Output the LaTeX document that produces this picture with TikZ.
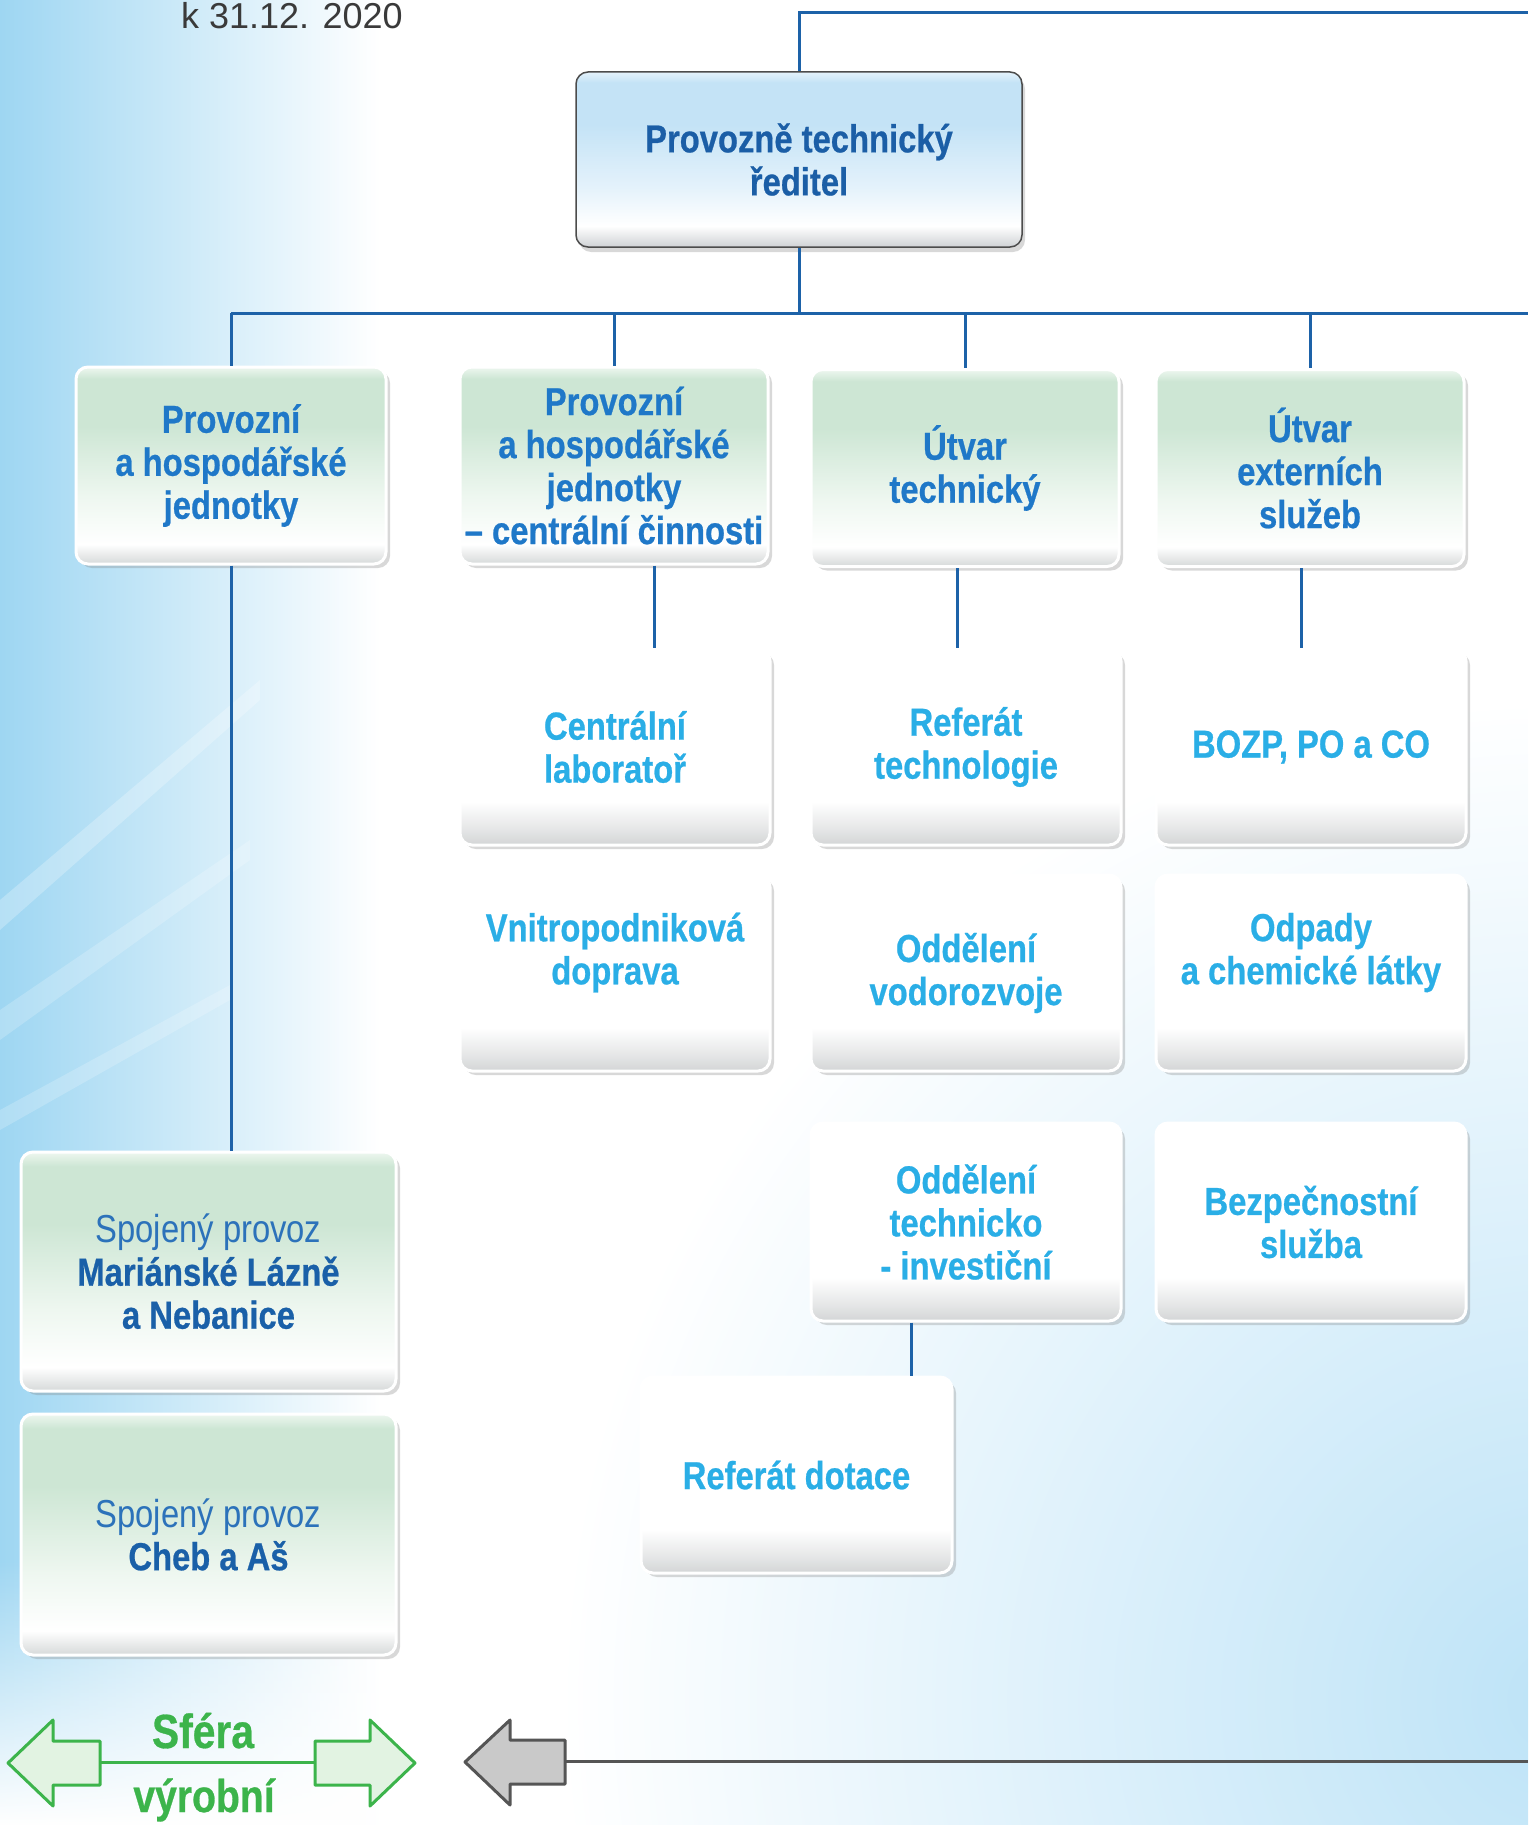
\documentclass[tikz,border=0pt]{standalone}
\usepackage{fontspec}
\setmainfont{Liberation Sans}
\newfontfamily\cond{Liberation Sans}[FakeStretch=0.84]
\newfontfamily\condb{Liberation Sans Bold}[FakeStretch=0.84, FakeBold=0.6]
\newfontfamily\sferafont{Liberation Sans Bold}[FakeStretch=0.85, FakeBold=0.6]
\usetikzlibrary{shadows,fadings,calc}

\definecolor{linecol}{HTML}{1D62A8}
\definecolor{dirtext}{HTML}{1B5EA6}
\definecolor{ltwotext}{HTML}{1F78C8}
\definecolor{lthreetext}{HTML}{2AAEE6}
\definecolor{spbold}{HTML}{1A60A8}
\definecolor{splight}{HTML}{2C72BA}
\definecolor{dirtop}{HTML}{C4E3F6}
\definecolor{dirmid}{HTML}{E4F2FB}
\definecolor{dirbot}{HTML}{CFD2D5}
\definecolor{grtop}{HTML}{CDE6D4}
\definecolor{grmid}{HTML}{EEF7F0}
\definecolor{grbot}{HTML}{D6D9D9}
\definecolor{whbot}{HTML}{D3D5D6}
\definecolor{bgblue}{HTML}{9ED6F2}
\definecolor{bgblue2}{HTML}{BDE3F7}
\definecolor{sfgreen}{HTML}{3CB44B}
\definecolor{sfgreenfill}{HTML}{E2F3E2}
\definecolor{arrgray}{HTML}{C9C9C9}
\definecolor{arrline}{HTML}{555555}
\definecolor{datetext}{HTML}{3A3A3A}

\pgfdeclareverticalshading{whshade}{100bp}{color(0bp)=(whbot); color(25bp)=(whbot);
  color(29bp)=(whbot!60!white); color(36bp)=(white); color(100bp)=(white)}
\pgfdeclareverticalshading{grshade}{100bp}{color(0bp)=(grbot); color(25bp)=(grbot);
  color(30bp)=(white); color(42bp)=(grmid); color(60bp)=(grtop); color(72bp)=(grtop);
  color(75bp)=(grmid); color(100bp)=(grmid)}
\pgfdeclareverticalshading{dirshade}{100bp}{color(0bp)=(dirbot); color(25bp)=(dirbot);
  color(31bp)=(white); color(42bp)=(dirmid); color(60bp)=(dirtop); color(72bp)=(dirtop);
  color(75bp)=(dirmid); color(100bp)=(dirmid)}

\begin{document}
\begin{tikzpicture}[x=1pt,y=-1pt,
  box/.style={rounded corners=12pt, inner sep=0pt, align=center,
    font=\condb\fontsize{39}{43}\selectfont},
  dirbox/.style={box, draw=black!70, line width=1.5pt, shade, shading=dirshade, text=dirtext,
    drop shadow={shadow xshift=3pt, shadow yshift=-5pt, opacity=0.3}},
  greenbox/.style={box, draw=white, line width=3pt, shade, shading=grshade, text=ltwotext,
    drop shadow={shadow xshift=4pt, shadow yshift=-4pt, opacity=0.3}},
  whitebox/.style={box, draw=white, line width=3pt, shade, shading=whshade, text=lthreetext,
    drop shadow={shadow xshift=4pt, shadow yshift=-4pt, opacity=0.3}},
  sidebox/.style={greenbox, text=spbold},
  conn/.style={draw=linecol, line width=3pt},
  sfera/.style={font=\sferafont\fontsize{48}{50}\selectfont, text=sfgreen, inner sep=0pt},
  arrowshape/.style={line width=3pt, line join=round}
]
% canvas
\useasboundingbox (0,0) rectangle (1528,1825);
\fill[white] (0,0) rectangle (1528,1825);
% background tints
\begin{scope}
  \clip (0,0) rectangle (1528,1825);
  \shade[inner color=bgblue2, outer color=white] (1560,1700) circle (1000);
\end{scope}
\shade[left color=bgblue, right color=white] (0,0) rectangle (380,1825);
\fill[white, opacity=0.25] (0,900) -- (0,930) -- (260,700) -- (260,680) -- cycle;
\fill[white, opacity=0.2] (0,1010) -- (0,1040) -- (250,860) -- (250,840) -- cycle;
\fill[white, opacity=0.2] (0,1110) -- (0,1130) -- (230,1000) -- (230,985) -- cycle;
\fill[white, path fading=north] (0,1560) rectangle (420,1825);

% date
\node[anchor=base west, inner sep=0pt, text=datetext,
      font=\fontsize{36}{40}\selectfont] (date) at (181,29) {k 31.12. 2020};

% director
\node[dirbox, minimum width=446pt, minimum height=175pt] (dir) at (799,159.5)
  {Provozně technický\\ředitel};

% level 2
\node[greenbox, minimum width=310pt, minimum height=197pt] (b1) at (231,465.5)
  {Provozní\\a hospodářské\\jednotky};
\node[greenbox, minimum width=308pt, minimum height=197pt] (b2) at (614,465.5)
  {Provozní\\a hospodářské\\jednotky\\– centrální činnosti};
\node[greenbox, minimum width=308pt, minimum height=197pt] (b3) at (965,468)
  {Útvar\\technický};
\node[greenbox, minimum width=308pt, minimum height=197pt] (b4) at (1310,468)
  {Útvar\\externích\\služeb};

% level 3
\node[whitebox, minimum width=310pt, minimum height=196pt] (c1) at (615,747)
  {Centrální\\laboratoř};
\node[whitebox, minimum width=310pt, minimum height=196pt] (d1) at (966,747)
  {Referát\\technologie};
\node[whitebox, minimum width=310pt, minimum height=196pt] (e1) at (1311,747)
  {BOZP, PO a CO};
\node[whitebox, minimum width=310pt, minimum height=196pt] (c2) at (615,973)
  {Vnitropodniková\\doprava\\[6pt]};
\node[whitebox, minimum width=310pt, minimum height=196pt] (d2) at (966,973)
  {Oddělení\\vodorozvoje};
\node[whitebox, minimum width=310pt, minimum height=196pt] (e2) at (1311,973)
  {Odpady\\a chemické látky\\[6pt]};
\node[whitebox, minimum width=310pt, minimum height=198pt] (d3) at (966,1222)
  {Oddělení\\technicko\\- investiční};
\node[whitebox, minimum width=310pt, minimum height=198pt] (e3) at (1311,1222)
  {Bezpečnostní\\služba};
\node[whitebox, minimum width=311pt, minimum height=196pt] (dot) at (796.5,1475)
  {Referát dotace};

% left side units
\node[sidebox, minimum width=375pt, minimum height=239pt] (ml) at (208.5,1271.5)
  {{\cond\color{splight}Spojený provoz}\\Mariánské Lázně\\a Nebanice};
\node[sidebox, minimum width=375pt, minimum height=241pt] (cheb) at (208.5,1534.5)
  {{\cond\color{splight}Spojený provoz}\\Cheb a Aš};

% connectors
\coordinate (topR) at (1528,13);
\coordinate (busR) at (1528,313);
\draw[conn] (dir.north) |- (topR);
\draw[conn] (dir.south) -- (dir.south |- busR);
\draw[conn] (b1.north |- busR) -- (busR);
\foreach \n in {b1,b2,b3,b4} { \draw[conn] (\n.north |- busR) -- (\n.north); }
\draw[conn] (b1.south) -- (b1.south |- ml.north);
\draw[conn] ([xshift=40pt]b2.south) -- ([xshift=40pt]b2.south |- c1.north);
\draw[conn] ([xshift=-8pt]b3.south) -- ([xshift=-8pt]b3.south |- d1.north);
\draw[conn] ([xshift=-9pt]b4.south) -- ([xshift=-9pt]b4.south |- e1.north);
\draw[conn] ([xshift=-55pt]d3.south) -- ([xshift=-55pt]d3.south |- dot.north);

% bottom: production sphere arrows
\filldraw[arrowshape, draw=sfgreen, fill=sfgreenfill]
  (8,1763) -- (53,1720) -- (53,1741) -- (100,1741) -- (100,1785) -- (53,1785) -- (53,1806) -- cycle;
\filldraw[arrowshape, draw=sfgreen, fill=sfgreenfill]
  (415,1763) -- (370,1720) -- (370,1741) -- (315,1741) -- (315,1785) -- (370,1785) -- (370,1806) -- cycle;
\coordinate (gL) at (100,1762);
\coordinate (gR) at (315,1762);
\draw[draw=sfgreen, line width=3pt] (gL) -- (gR);
\node[sfera, anchor=base] (sf1) at (203,1748) {Sféra};
\node[sfera, anchor=base, font=\sferafont\fontsize{46}{48}\selectfont] (sf2) at (204,1812) {výrobní};

% gray arrow and line
\filldraw[arrowshape, draw=arrline, fill=arrgray]
  (465,1762) -- (510,1720) -- (510,1740) -- (565,1740) -- (565,1784) -- (510,1784) -- (510,1805) -- cycle;
\coordinate (grayL) at (565,1761);
\coordinate (grayR) at (1528,1761);
\draw[draw=arrline, line width=3pt] (grayL) -- (grayR);
\end{tikzpicture}
\end{document}
